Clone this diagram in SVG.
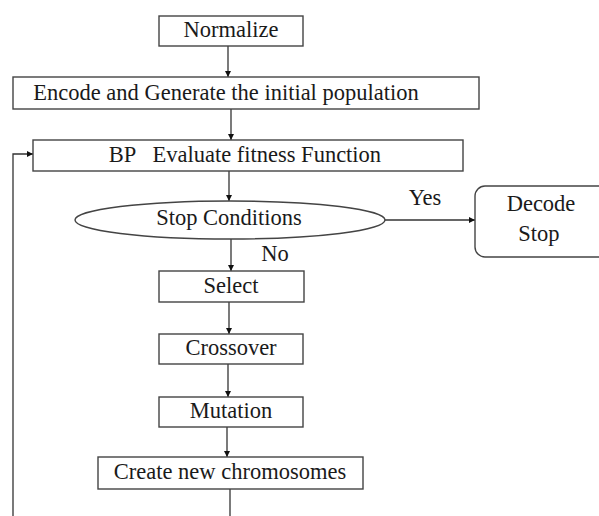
<svg xmlns="http://www.w3.org/2000/svg" width="599" height="516" viewBox="0 0 599 516">
<defs>
<style>
.box{fill:#fff;stroke:#444;stroke-width:1.4}
.lbl{font-family:"Liberation Serif","Times New Roman",serif;font-size:22.5px;fill:#1a1a1a;text-anchor:middle}
.edge{fill:none;stroke:#333;stroke-width:1.3}
</style>
<marker id="arr" viewBox="0 0 10 10" refX="10" refY="5" markerWidth="6" markerHeight="6" markerUnits="userSpaceOnUse" orient="auto">
<path d="M0,0 L10,5 L0,10 z" fill="#111"/>
</marker>
</defs>
<rect width="599" height="516" fill="#fff"/>
<g id="connectors">
<line class="edge" x1="228" y1="46" x2="228" y2="77" marker-end="url(#arr)"/>
<line class="edge" x1="231" y1="109" x2="231" y2="140" marker-end="url(#arr)"/>
<line class="edge" x1="229" y1="171" x2="229" y2="201" marker-end="url(#arr)"/>
<line class="edge" x1="385" y1="220" x2="475" y2="220" marker-end="url(#arr)"/>
<line class="edge" x1="231" y1="239" x2="231" y2="271" marker-end="url(#arr)"/>
<line class="edge" x1="229" y1="302" x2="229" y2="334" marker-end="url(#arr)"/>
<line class="edge" x1="228" y1="364" x2="228" y2="397" marker-end="url(#arr)"/>
<line class="edge" x1="227" y1="427" x2="227" y2="457" marker-end="url(#arr)"/>
<line class="edge" x1="230" y1="489" x2="230" y2="516"/>
<polyline class="edge" points="13,516 13,154 33,154" marker-end="url(#arr)"/>
<text class="lbl" x="425" y="205">Yes</text>
<text class="lbl" x="275" y="261">No</text>
</g>
<g id="normalize">
<rect class="box" x="159" y="16" width="144" height="30"/>
<text class="lbl" x="231" y="37">Normalize</text>
</g>
<g id="encode">
<rect class="box" x="13" y="77" width="466" height="32"/>
<text class="lbl" x="226" y="100">Encode and Generate the initial population</text>
</g>
<g id="evaluate">
<rect class="box" x="33" y="140" width="430" height="31"/>
<text class="lbl" x="245" y="162" xml:space="preserve">BP   Evaluate fitness Function</text>
</g>
<g id="stop-conditions">
<ellipse class="box" cx="230" cy="220" rx="155" ry="19"/>
<text class="lbl" x="229" y="225">Stop Conditions</text>
</g>
<g id="decode-stop">
<rect class="box" x="475" y="186" width="140" height="71" rx="10" ry="10"/>
<text class="lbl" x="541" y="211">Decode</text>
<text class="lbl" x="539" y="241">Stop</text>
</g>
<g id="select">
<rect class="box" x="159" y="271" width="145" height="31"/>
<text class="lbl" x="231" y="293">Select</text>
</g>
<g id="crossover">
<rect class="box" x="159" y="334" width="144" height="30"/>
<text class="lbl" x="231" y="355">Crossover</text>
</g>
<g id="mutation">
<rect class="box" x="159" y="397" width="144" height="30"/>
<text class="lbl" x="231" y="418">Mutation</text>
</g>
<g id="create">
<rect class="box" x="98" y="457" width="265" height="32"/>
<text class="lbl" x="230" y="479">Create new chromosomes</text>
</g>
</svg>
